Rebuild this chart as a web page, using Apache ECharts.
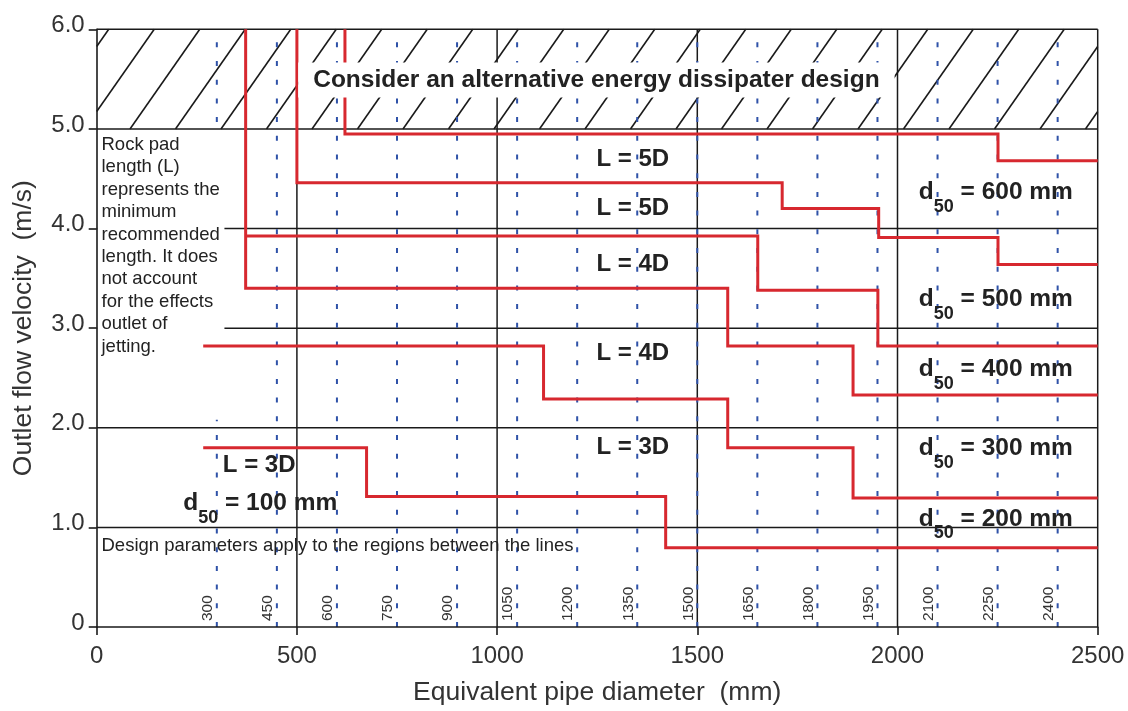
<!DOCTYPE html>
<html>
<head>
<meta charset="utf-8">
<script src="https://cdn.jsdelivr.net/npm/echarts@6/dist/echarts.min.js"></script>
<style>html,body{margin:0;padding:0;background:#fff}#c{width:1128px;height:711px}</style>
</head>
<body>
<div id="c"></div>
<script>
// ---------------- data ----------------
const xTicks = [0, 500, 1000, 1500, 2000, 2500];
const yTicks = [0, 1, 2, 3, 4, 5, 6];
const majorX = [500, 1000, 1500, 2000, 2500];
const majorY = [1, 2, 3, 4, 5, 6];
const pipeSizes = [300, 450, 600, 750, 900, 1050, 1200, 1350, 1500, 1650, 1800, 1950, 2100, 2250, 2400];
const pipeLabels = ['300', '450', '600', '750', '900', '1050', '1200', '1350', '1500', '1650', '1800', '1950', '2100', '2250', '2400'];
// red boundary lines: break points (mm) and velocity levels (m/s) between them
const lineA_x = [266, 674, 1421, 2500];
const lineA_v = [1.80, 1.31, 0.795];
const lineB_x = [266, 1116, 1576, 1889, 2500];
const lineB_v = [2.82, 2.29, 1.80, 1.295];
const lineC_x = [372, 372, 1576, 1889, 2500];
const lineC_v = [6.0, 3.40, 2.82, 2.33];
const lineD_x = [372, 1651, 1951, 2500];
const lineD_v = [3.925, 3.38, 2.82];
const lineE_x = [500, 500, 1712, 1953, 2251, 2500];
const lineE_v = [6.0, 4.46, 4.20, 3.91, 3.64];
const lineF_x = [620, 620, 2251, 2500];
const lineF_v = [6.0, 4.95, 4.68];
const redLines = [[lineA_x, lineA_v], [lineB_x, lineB_v], [lineC_x, lineC_v], [lineD_x, lineD_v], [lineE_x, lineE_v], [lineF_x, lineF_v]];

// ---------------- texts ----------------
const hatchText = 'Consider an alternative energy dissipater design';
const noteText = ['Rock pad', 'length (L)', 'represents the', 'minimum', 'recommended', 'length. It does', 'not account', 'for the effects', 'outlet of', 'jetting.'];
const designText = 'Design parameters apply to the regions between the lines';
const lengthLabels = ['L = 5D', 'L = 5D', 'L = 4D', 'L = 4D', 'L = 3D', 'L = 3D'];
const d50Labels = ['600', '500', '400', '300', '200', '100'];

// ---------------- layout / style ----------------
const FONT = '"Liberation Sans", Arial, Helvetica, sans-serif';
const BLACK = '#1a1a1a';
const TXT = '#333';
const RED = '#d7282f';
const BLUE = '#2f52a8';
const lengthPos = [[1248, 4.69], [1248, 4.205], [1248, 3.64], [1248, 2.745], [1248, 1.80], [315, 1.62]];
const d50Pos = [[2053, 4.365], [2053, 3.29], [2053, 2.585], [2053, 1.79], [2053, 1.085], [216, 1.24]];

function steps(xs, vs) {
  const pts = [];
  for (let i = 0; i < vs.length; i++) {
    pts.push([xs[i], vs[i]]);
    pts.push([xs[i + 1], vs[i]]);
  }
  return pts;
}

const chart = echarts.init(document.getElementById('c'), null, { renderer: 'canvas' });

const lineSeries = redLines.map(function (l, i) {
  return {
    type: 'line', name: 'boundary' + i, data: steps(l[0], l[1]),
    symbol: 'none', showSymbol: false, z: 3, silent: true, clip: false,
    lineStyle: { color: RED, width: 3, join: 'miter', cap: 'butt' }
  };
});

const annots = [];
lengthLabels.forEach(function (t, i) {
  annots.push({ pos: lengthPos[i], style: { text: t, fill: '#222', font: 'bold 24px ' + FONT, align: 'left', verticalAlign: 'middle' } });
});
d50Labels.forEach(function (t, i) {
  annots.push({ pos: d50Pos[i], style: {
    text: '{m|d}{s|50}{m| = ' + t + ' mm}', align: 'left', verticalAlign: 'middle',
    rich: {
      m: { fontSize: 24.5, fontWeight: 'bold', fontFamily: FONT, fill: '#222', lineHeight: 25 },
      s: { fontSize: 18, fontWeight: 'bold', fontFamily: FONT, fill: '#222', lineHeight: 17, padding: [29, 0, 0, 0] }
    }
  } });
});
annots.push({ pos: [12, 4.952], style: { text: noteText.join('\n'), fill: '#222', fontSize: 18.5, fontFamily: FONT, lineHeight: 22.4, align: 'left', verticalAlign: 'top' } });
annots.push({ pos: [12, 0.81], style: { text: designText, fill: '#222', fontSize: 18.5, fontFamily: FONT, align: 'left', verticalAlign: 'middle' } });

const option = {
  animation: false,
  backgroundColor: '#fff',
  grid: { left: 96.7, right: 30.3, top: 29.3, bottom: 81.7, containLabel: false },
  xAxis: {
    type: 'value', min: 0, max: 2500, interval: 500, z: 10,
    axisLine: { show: true, lineStyle: { color: BLACK, width: 1.6 } },
    axisTick: { show: true, inside: false, length: 8, lineStyle: { color: BLACK, width: 1.6 } },
    axisLabel: { color: TXT, fontSize: 24, fontFamily: FONT, margin: 17, formatter: function (v) { return String(v); } },
    splitLine: { show: false },
    name: 'Equivalent pipe diameter  (mm)', nameLocation: 'middle', nameGap: 52,
    nameTextStyle: { fontSize: 26.5, color: TXT, fontFamily: FONT }
  },
  yAxis: {
    type: 'value', min: 0, max: 6, interval: 1, z: 10,
    axisLine: { show: true, lineStyle: { color: BLACK, width: 1.6 } },
    axisTick: { show: true, inside: false, length: 8, lineStyle: { color: BLACK, width: 1.6 } },
    axisLabel: {
      color: TXT, fontSize: 24, fontFamily: FONT, margin: 12, verticalAlign: 'bottom', lineHeight: 8,
      formatter: function (v) { return v === 0 ? '0' : v.toFixed(1); }
    },
    splitLine: { show: false },
    name: 'Outlet flow velocity  (m/s)', nameLocation: 'middle', nameGap: 60,
    nameTextStyle: { fontSize: 26.5, color: TXT, fontFamily: FONT }
  },
  series: [
    { // hatched zone 5-6 m/s
      type: 'custom', z: 1, silent: true, data: [[0, 5, 2500, 6]],
      renderItem: function (params, api) {
        const a = api.coord([api.value(0), api.value(3)]);
        const b = api.coord([api.value(2), api.value(1)]);
        const L = a[0], T = a[1], R = b[0], B = b[1], H = B - T;
        const run = 0.70 * H, gap = 45.5, off = 33.3;
        const kids = [];
        for (let bx = L + off - 3 * gap; bx < R; bx += gap) {
          let t0 = Math.max(0, (L - bx) / run), t1 = Math.min(1, (R - bx) / run);
          if (t0 >= t1) continue;
          kids.push({ type: 'line', shape: { x1: bx + run * t0, y1: B - H * t0, x2: bx + run * t1, y2: B - H * t1 },
            style: { stroke: BLACK, lineWidth: 1.6 } });
        }
        return { type: 'group', children: kids };
      }
    },
    { // major vertical lines
      type: 'custom', z: 1, silent: true, data: majorX.map(function (x) { return [x]; }),
      renderItem: function (params, api) {
        const p0 = api.coord([api.value(0), 0]), p1 = api.coord([api.value(0), 6]);
        return { type: 'line', shape: { x1: p0[0], y1: p0[1], x2: p1[0], y2: p1[1] }, style: { stroke: BLACK, lineWidth: 1.5 } };
      }
    },
    { // major horizontal lines
      type: 'custom', z: 1, silent: true, data: majorY.map(function (y) { return [y]; }),
      renderItem: function (params, api) {
        const p0 = api.coord([0, api.value(0)]), p1 = api.coord([2500, api.value(0)]);
        return { type: 'line', shape: { x1: p0[0], y1: p0[1], x2: p1[0], y2: p1[1] }, style: { stroke: BLACK, lineWidth: 1.5 } };
      }
    },
    { // dotted pipe size lines
      type: 'custom', z: 1, silent: true, data: pipeSizes.map(function (x) { return [x]; }),
      renderItem: function (params, api) {
        const p0 = api.coord([api.value(0), 0]), p1 = api.coord([api.value(0), 6]);
        return { type: 'line', shape: { x1: p0[0], y1: p0[1], x2: p1[0], y2: p1[1] },
          style: { stroke: BLUE, lineWidth: 2, lineDash: [5, 13.7] } };
      }
    },
    { // pipe size labels
      type: 'custom', z: 4, silent: true, data: pipeSizes.map(function (x) { return [x]; }),
      renderItem: function (params, api) {
        const p = api.coord([api.value(0), 0]);
        return { type: 'text', x: p[0] - 1, y: p[1] - 6, rotation: Math.PI / 2,
          style: { text: pipeLabels[params.dataIndex], fill: TXT, fontSize: 15.5, fontFamily: FONT, align: 'left', verticalAlign: 'bottom' } };
      }
    },
    { // white backing of the note text block
      type: 'custom', z: 2, silent: true, data: [[1.5, 2.08, 319, 4.98]],
      renderItem: function (params, api) {
        const a = api.coord([api.value(0), api.value(3)]);
        const b = api.coord([api.value(2), api.value(1)]);
        return { type: 'rect', shape: { x: a[0], y: a[1], width: b[0] - a[0], height: b[1] - a[1] }, style: { fill: '#fff' } };
      }
    }
  ].concat(lineSeries).concat([
    { // annotations
      type: 'custom', z: 4, silent: true, data: annots.map(function (a) { return a.pos; }),
      renderItem: function (params, api) {
        const p = api.coord([api.value(0), api.value(1)]);
        return { type: 'text', x: p[0], y: p[1], style: annots[params.dataIndex].style };
      }
    },
    { // hatched zone caption
      type: 'custom', z: 5, silent: true, data: [[1248, 5.49]],
      renderItem: function (params, api) {
        const p = api.coord([api.value(0), api.value(1)]);
        return { type: 'text', x: p[0], y: p[1], style: { text: hatchText, fill: '#222', font: 'bold 24.5px ' + FONT,
          align: 'center', verticalAlign: 'middle', backgroundColor: '#fff', padding: [5, 15, 5, 15] } };
      }
    }
  ])
};
chart.setOption(option);
</script>
</body>
</html>
